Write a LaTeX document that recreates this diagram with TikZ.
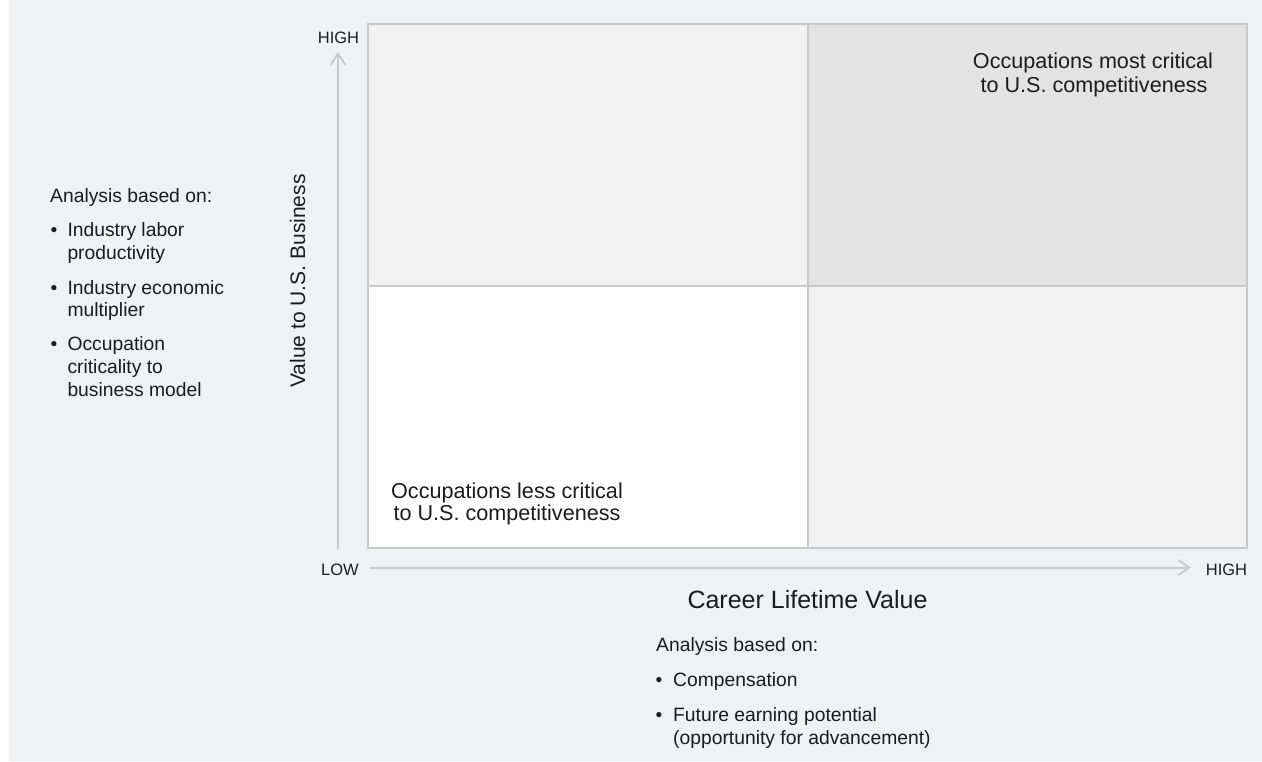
\documentclass[tikz,border=0pt]{standalone}
\usepackage{fontspec}
\setmainfont{Liberation Sans}
\usetikzlibrary{arrows.meta}
\definecolor{bgc}{HTML}{F0F1F3}
\definecolor{qlight}{HTML}{F2F2F2}
\definecolor{qdark}{HTML}{E3E3E3}
\definecolor{gridc}{HTML}{C8C8C8}
\definecolor{axisc}{HTML}{CBCBCB}
\definecolor{txt}{HTML}{1C1C1C}
\tikzset{
  gridline/.style={draw=gridc, line width=2.6pt},
  axisline/.style={draw=axisc, line width=2pt, -{Straight Barb[length=11pt,width=15pt,line width=2pt]}},
  lab/.style={anchor=base, inner sep=0pt, text=txt},
  quadtext/.style={lab, font=\fontsize{21.6}{24}\selectfont},
  smalltext/.style={lab, anchor=base west, font=\fontsize{19.3}{23}\selectfont},
  ticktext/.style={lab, font=\fontsize{16.5}{18}\selectfont},
  axistext/.style={lab, font=\fontsize{21}{24}\selectfont},
  bul/.style={lab, anchor=base west, font=\fontsize{19.3}{23}\selectfont}
}
\begin{document}
\begin{tikzpicture}[x=1pt,y=-1pt]
\useasboundingbox (0,0) rectangle (1262,761);
\fill[bgc] (9,0) rectangle (1262,761);
% quadrants
\fill[qlight] (368,24) rectangle (808,286);
\fill[qdark] (808,24) rectangle (1247,286);
\fill[white] (368,286) rectangle (808,548);
\fill[qlight] (808,286) rectangle (1247,548);
\draw[gridline] (368,24) rectangle (1247,548);
\draw[gridline] (808,24) -- (808,548);
\draw[gridline] (368,286) -- (1247,286);
% axes
\coordinate (vs) at (338,549);
\coordinate (ve) at (338,52);
\coordinate (hs) at (370,567.5);
\coordinate (he) at (1191,567.5);
\draw[axisline] (vs) -- (ve);
\draw[axisline] (hs) -- (he);
% tick labels
\node[ticktext] (hightop) at (338.5,43.3) {HIGH};
\node[ticktext] (low) at (340,575) {LOW};
\node[ticktext] (highright) at (1226.5,575) {HIGH};
% axis titles
\node[axistext, rotate=90] (ytitle) at (305,281) {Value to U.S.~Business};
\node[axistext, font=\fontsize{25}{28}\selectfont] (xtitle) at (807.5,608.3) {Career Lifetime Value};
% quadrant labels
\node[quadtext] (tr1) at (1093,68.3) {Occupations most critical};
\node[quadtext] (tr2) at (1094,92.3) {to U.S. competitiveness};
\node[quadtext] (bl1) at (507,498.3) {Occupations less critical};
\node[quadtext] (bl2) at (507,520.5) {to U.S. competitiveness};
% left analysis
\node[smalltext] (la) at (50,202) {Analysis based on:};
\node[bul] (lb1) at (50.5,236.7) {•};
\node[smalltext] (l1a) at (67.3,236.7) {Industry labor};
\node[smalltext] (l1b) at (67.3,259.3) {productivity};
\node[bul] (lb2) at (50.5,294) {•};
\node[smalltext] (l2a) at (67.3,294) {Industry economic};
\node[smalltext] (l2b) at (67.3,316.7) {multiplier};
\node[bul] (lb3) at (50.5,350.7) {•};
\node[smalltext] (l3a) at (67.3,350.7) {Occupation};
\node[smalltext] (l3b) at (67.3,373.3) {criticality to};
\node[smalltext] (l3c) at (67.3,396.7) {business model};
% bottom analysis
\node[smalltext] (ba) at (656,651) {Analysis based on:};
\node[bul] (bb1) at (655.5,686.7) {•};
\node[smalltext] (b1a) at (673,686.7) {Compensation};
\node[bul] (bb2) at (655.5,721) {•};
\node[smalltext] (b2a) at (673,721) {Future earning potential};
\node[smalltext] (b2b) at (673,744) {(opportunity for advancement)};
\end{tikzpicture}
\end{document}
